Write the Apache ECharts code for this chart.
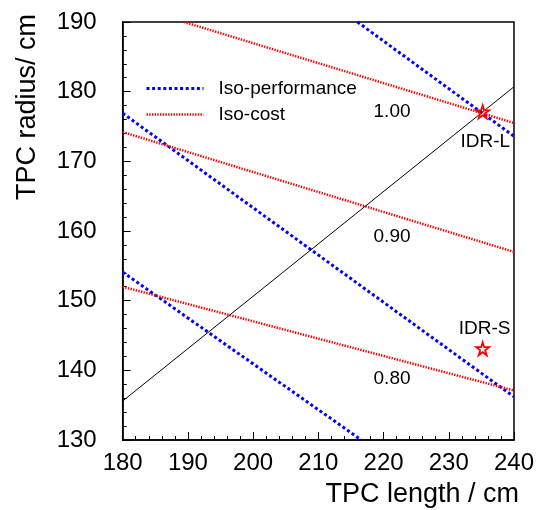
<!DOCTYPE html>
<html>
<head>
<meta charset="utf-8">
<script src="https://cdn.jsdelivr.net/npm/echarts@6/dist/echarts.min.js"></script>
<style>
  html, body { margin: 0; padding: 0; background: #fff; }
  #chart { width: 537px; height: 510px; }
</style>
</head>
<body>
<div id="chart"></div>
<script>
// iso-performance lines (blue), iso-cost lines (red), end points in (length, radius)
const perfLines = [
  [[216.0, 190], [240, 173.6]],
  [[180, 176.9], [240, 136.2]],
  [[180, 154.1], [216.6, 130]]
];
const costLines = [
  [[189.4, 190], [240, 175.5]],
  [[180, 174.2], [240, 157.0]],
  [[180, 152.0], [240, 137.1]]
];
const diagonal = [[180, 135.6], [240, 180.7]];
const idrPoints = [[235.2, 177.1], [235.2, 143.1]];
const textLabels = [
  { name: '1.00', value: [221.3, 177.1] },
  { name: '0.90', value: [221.3, 159.2] },
  { name: '0.80', value: [221.3, 138.8] },
  { name: 'IDR-L', value: [235.6, 172.8] },
  { name: 'IDR-S', value: [235.5, 145.9] }
];

const FONT = 'Liberation Sans, Arial, sans-serif';
const starPath = 'path://M50,0 L61.8,36.2 L100,36.2 L69.1,58.8 L80.9,95.1 L50,72.6 L19.1,95.1 L30.9,58.8 L0,36.2 L38.2,36.2 Z';
const perfStyle = { color: '#0000ff', width: 3, type: [3, 2.6] };
const costStyle = { color: '#ff0000', width: 2.5, type: [1.4, 1.3] };

const series = [];
perfLines.forEach((seg) => {
  series.push({
    name: 'Iso-performance', type: 'line', data: seg, symbol: 'none',
    lineStyle: perfStyle, itemStyle: { color: '#0000ff' }, silent: true
  });
});
costLines.forEach((seg) => {
  series.push({
    name: 'Iso-cost', type: 'line', data: seg, symbol: 'none',
    lineStyle: costStyle, itemStyle: { color: '#ff0000' }, silent: true
  });
});
series.push({
  name: 'diag', type: 'line', data: diagonal, symbol: 'none',
  lineStyle: { color: '#000', width: 1 }, silent: true
});
series.push({
  name: 'IDR', type: 'scatter', data: idrPoints, symbol: starPath, symbolSize: 13,
  itemStyle: { color: 'rgba(0,0,0,0)', borderColor: '#ff0000', borderWidth: 1.8, opacity: 1 }, z: 5
});
series.push({
  name: 'labels', type: 'scatter', data: textLabels, symbolSize: 0,
  itemStyle: { opacity: 1 },
  label: {
    show: true, position: 'inside', formatter: (p) => p.name,
    color: '#000', fontSize: 19, fontFamily: FONT
  }
});

const chart = echarts.init(document.getElementById('chart'));
chart.setOption({
  animation: false,
  backgroundColor: '#fff',
  grid: {
    left: 122.7, right: 21.7, top: 22, bottom: 70,
    show: true, borderColor: '#000', borderWidth: 1.5
  },
  legend: {
    data: [
      { name: 'Iso-performance', itemStyle: { opacity: 0 }, lineStyle: perfStyle },
      { name: 'Iso-cost', itemStyle: { opacity: 0 }, lineStyle: costStyle }
    ],
    orient: 'vertical', left: 145, top: 79, padding: 0,
    itemWidth: 57, itemHeight: 6, itemGap: 7,
    textStyle: { fontSize: 19, fontFamily: FONT, color: '#000', padding: [0, 0, 0, 10] }
  },
  xAxis: {
    type: 'value', min: 180, max: 240, interval: 10,
    axisLine: { lineStyle: { color: '#000', width: 1.5 } },
    axisTick: { inside: true, length: 8, lineStyle: { color: '#000' } },
    minorTick: { show: true, splitNumber: 5, length: 4, lineStyle: { color: '#000' } },
    splitLine: { show: false },
    axisLabel: { fontSize: 24, fontFamily: FONT, color: '#000', margin: 11 }
  },
  yAxis: {
    type: 'value', min: 130, max: 190, interval: 10,
    axisLine: { lineStyle: { color: '#000', width: 1.5 } },
    axisTick: { inside: true, length: 8, lineStyle: { color: '#000' } },
    minorTick: { show: true, splitNumber: 5, length: 4, lineStyle: { color: '#000' } },
    splitLine: { show: false },
    axisLabel: { fontSize: 24, fontFamily: FONT, color: '#000', margin: 26 }
  },
  graphic: [
    {
      type: 'text', right: 18, top: 481,
      style: { text: 'TPC length / cm', fontSize: 27, fontFamily: FONT, fill: '#000' }
    },
    {
      type: 'text', x: 14, y: 200, rotation: Math.PI / 2,
      style: { text: 'TPC radius/ cm', fontSize: 27, fontFamily: FONT, fill: '#000', textAlign: 'left', textVerticalAlign: 'top' }
    }
  ],
  series: series
});
</script>
</body>
</html>
